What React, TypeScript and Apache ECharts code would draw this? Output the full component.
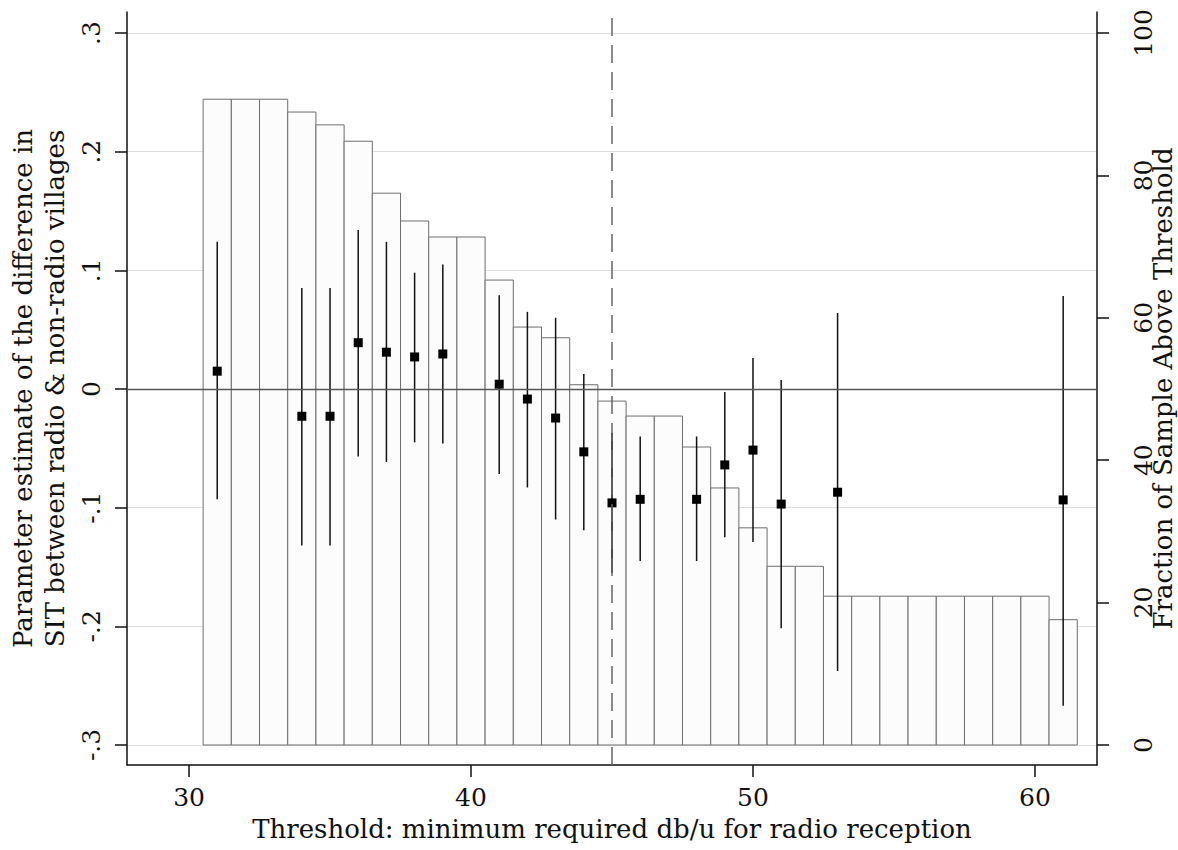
import React, { useEffect, useRef } from "react";
import * as echarts from "echarts";

// Thresholds with a bar (fraction of sample above threshold, %)
const barThresholds = [31, 32, 33, 34, 35, 36, 37, 38, 39, 40, 41, 42, 43, 44, 45, 46, 47, 48, 49, 50, 51, 52, 53, 54, 55, 56, 57, 58, 59, 60, 61];
const barFractions = [90.7, 90.7, 90.7, 88.9, 87.1, 84.8, 77.5, 73.6, 71.35, 71.35, 65.3, 58.7, 57.2, 50.6, 48.3, 46.2, 46.2, 41.85, 36.1, 30.5, 25.1, 25.1, 20.9, 20.9, 20.9, 20.9, 20.9, 20.9, 20.9, 20.9, 17.6];

// Point estimates with confidence intervals
const estThresholds = [31, 34, 35, 36, 37, 38, 39, 41, 42, 43, 44, 45, 46, 48, 49, 50, 51, 53, 61];
const estimates = [0.015, -0.023, -0.023, 0.039, 0.031, 0.027, 0.0295, 0.004, -0.0085, -0.0245, -0.053, -0.096, -0.093, -0.093, -0.064, -0.0515, -0.097, -0.087, -0.0935];
const ciUpper = [0.124, 0.085, 0.085, 0.134, 0.124, 0.098, 0.105, 0.079, 0.065, 0.06, 0.0126, -0.037, -0.040, -0.040, -0.0025, 0.026, 0.0076, 0.064, 0.0784];
const ciLower = [-0.093, -0.132, -0.132, -0.057, -0.0615, -0.045, -0.046, -0.0716, -0.083, -0.110, -0.119, -0.155, -0.145, -0.145, -0.125, -0.129, -0.2017, -0.2376, -0.267];

const leftTicks = [-0.3, -0.2, -0.1, 0, 0.1, 0.2, 0.3];
const rightTicks = [0, 20, 40, 60, 80, 100];
const xTicks = [30, 40, 50, 60];
const cutoff = 45;

const FONT = "'DejaVu Serif', 'Liberation Serif', serif";
const FS = 25;
const TFS = 26;

function fmtLeft(v: number) {
  if (Math.abs(v) < 1e-9) return "0";
  const s = Math.round(Math.abs(v) * 10);
  return (v < 0 ? "-" : "") + "." + s;
}

export default function App() {
  const ref = useRef<HTMLDivElement>(null);
  useEffect(() => {
    document.body.style.margin = "0";
    const chart = echarts.init(ref.current!, null, { renderer: "svg" });
    const barData = barThresholds.map((x, i) => [x, barFractions[i]]);
    const ciData = estThresholds.map((x, i) => [x, ciLower[i], ciUpper[i]]);
    const ptData = estThresholds.map((x, i) => [x, estimates[i]]);
    chart.setOption({
      animation: false,
      backgroundColor: "#ffffff",
      grid: { left: 127, right: 81, top: 12, bottom: 85, containLabel: false, outerBoundsMode: "none" },
      xAxis: {
        type: "value",
        min: 27.8,
        max: 62.2,
        name: "Threshold: minimum required db/u for radio reception",
        nameLocation: "middle",
        nameGap: 51,
        nameTextStyle: { fontFamily: FONT, fontSize: TFS, color: "#111" },
        axisLine: { show: true, onZero: false, lineStyle: { color: "#111", width: 1.5 } },
        axisTick: { show: true, length: 12, customValues: xTicks, lineStyle: { color: "#111", width: 1.5 } },
        axisLabel: { customValues: xTicks, fontFamily: FONT, fontSize: FS, color: "#111", margin: 20 },
        splitLine: { show: false },
      },
      yAxis: [
        {
          type: "value",
          min: -0.3169,
          max: 0.3177,
          position: "left",
          name: "Parameter estimate of the difference in\nSIT between radio & non-radio villages",
          nameLocation: "middle",
          nameRotate: 90,
          nameGap: 52,
          nameTextStyle: { fontFamily: FONT, fontSize: TFS, color: "#111", lineHeight: 32 },
          axisLine: { show: true, lineStyle: { color: "#111", width: 1.5 } },
          axisTick: { show: true, length: 12, customValues: leftTicks, lineStyle: { color: "#111", width: 1.5 } },
          axisLabel: {
            customValues: leftTicks,
            rotate: 90,
            fontFamily: FONT,
            fontSize: FS,
            color: "#111",
            margin: 23,
            formatter: (v: number) => fmtLeft(v),
          },
          splitLine: { show: true, lineStyle: { color: "#dddddd", width: 1 } },
        },
        {
          type: "value",
          min: -2.81,
          max: 102.95,
          position: "right",
          name: "Fraction of Sample Above Threshold",
          nameLocation: "middle",
          nameRotate: 90,
          nameGap: 53,
          nameMoveOverlap: false,
          nameTextStyle: { fontFamily: FONT, fontSize: TFS, color: "#111", lineHeight: 26, align: "center", verticalAlign: "top" },
          axisLine: { show: true, lineStyle: { color: "#111", width: 1.5 } },
          axisTick: { show: true, length: 12, customValues: rightTicks, lineStyle: { color: "#111", width: 1.5 } },
          axisLabel: { customValues: rightTicks, rotate: 90, fontFamily: FONT, fontSize: FS, color: "#111", margin: 34 },
          splitLine: { show: false },
        },
      ],
      series: [
        {
          type: "custom",
          name: "fraction",
          yAxisIndex: 1,
          z: 1,
          data: barData,
          renderItem: (params: any, api: any) => {
            const x = api.value(0);
            const v = api.value(1);
            const p1 = api.coord([x - 0.5, v]);
            const p2 = api.coord([x + 0.5, 0]);
            return {
              type: "rect",
              shape: { x: p1[0], y: p1[1], width: p2[0] - p1[0], height: p2[1] - p1[1] },
              style: { fill: "#fcfcfc", stroke: "#6e6e6e", lineWidth: 1 },
            };
          },
        },
        {
          type: "custom",
          name: "ci",
          yAxisIndex: 0,
          z: 3,
          data: ciData,
          renderItem: (params: any, api: any) => {
            const x = api.value(0);
            const a = api.coord([x, api.value(1)]);
            const b = api.coord([x, api.value(2)]);
            return {
              type: "line",
              shape: { x1: a[0], y1: a[1], x2: b[0], y2: b[1] },
              style: { stroke: "#111", lineWidth: 1.5 },
            };
          },
        },
        {
          type: "scatter",
          name: "estimate",
          yAxisIndex: 0,
          z: 4,
          symbol: "rect",
          symbolSize: 9,
          itemStyle: { color: "#000", opacity: 1 },
          data: ptData,
          markLine: {
            silent: true,
            symbol: ["none", "none"],
            label: { show: false },
            data: [
              { yAxis: 0, lineStyle: { color: "#555", width: 1.3, type: "solid" } },
              { xAxis: cutoff, lineStyle: { color: "#666", width: 1.5, type: [18, 9] } },
            ],
          },
        },
      ],
    });
    return () => chart.dispose();
  }, []);
  return <div ref={ref} style={{ position: "fixed", left: 0, top: 0, width: 1178, height: 850 }} />;
}
